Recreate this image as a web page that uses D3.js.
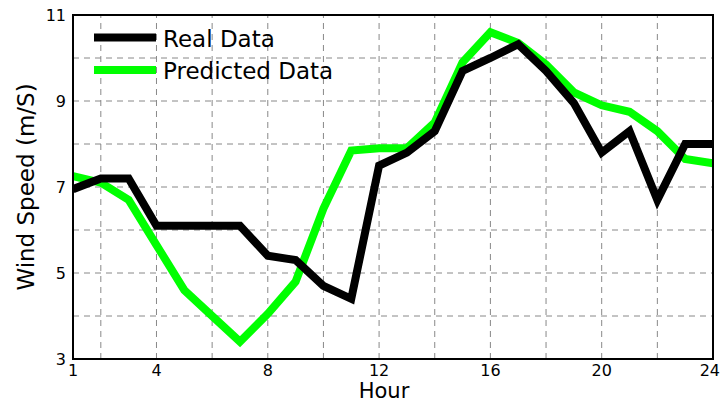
<!DOCTYPE html>
<html lang="en">
<head>
<meta charset="UTF-8"/>
<title>Wind Speed</title>
<script src="https://cdn.jsdelivr.net/npm/d3@7"></script>
<style>
  body { margin: 0; background: #fff; }
  text { font-family: "DejaVu Sans", sans-serif; fill: #000; }
</style>
</head>
<body>
<script>
var w = 721, h = 405;
var margin = {top: 15, right: 8, bottom: 46, left: 73};

var hours = d3.range(1, 25);
var realData = [6.95, 7.2, 7.2, 6.1, 6.1, 6.1, 6.1, 5.4, 5.3, 4.7, 4.4, 7.5,
                7.8, 8.3, 9.7, 10.0, 10.32, 9.7, 8.95, 7.8, 8.3, 6.7, 8.0, 8.0];
var predictedData = [7.25, 7.1, 6.7, 5.65, 4.6, 4.0, 3.4, 4.05, 4.8, 6.5, 7.85, 7.9,
                     7.9, 8.5, 9.9, 10.6, 10.35, 9.85, 9.2, 8.9, 8.75, 8.3, 7.65, 7.55];
var xTicks = [1, 4, 8, 12, 16, 20, 24];
var xGrid = [2, 4, 6, 8, 10, 12, 14, 16, 18, 20, 22];
var yTicks = [3, 5, 7, 9, 11];
var yGrid = [4, 5, 6, 7, 8, 9, 10];
var seriesNames = ["Real Data", "Predicted Data"];
var seriesColors = ["#000000", "#00ff00"];

var x = d3.scaleLinear().domain([1, 24]).range([margin.left, w - margin.right]);
var y = d3.scaleLinear().domain([3, 11]).range([h - margin.bottom, margin.top]);

var svg = d3.select("body").append("svg").attr("width", w).attr("height", h);

// grid
svg.append("g").selectAll("line").data(xGrid).enter().append("line")
  .attr("x1", function(d) { return x(d); }).attr("x2", function(d) { return x(d); })
  .attr("y1", y(3)).attr("y2", y(11))
  .attr("stroke", "#888").attr("stroke-width", 1).attr("stroke-dasharray", "6,5");
svg.append("g").selectAll("line").data(yGrid).enter().append("line")
  .attr("y1", function(d) { return y(d); }).attr("y2", function(d) { return y(d); })
  .attr("x1", x(1)).attr("x2", x(24))
  .attr("stroke", "#888").attr("stroke-width", 1).attr("stroke-dasharray", "6,5");

// lines (real data drawn last, on top)
var line = d3.line().x(function(d, i) { return x(hours[i]); }).y(function(d) { return y(d); });
svg.append("clipPath").attr("id", "clip").append("rect")
  .attr("x", x(1)).attr("y", y(11)).attr("width", x(24) - x(1)).attr("height", y(3) - y(11));

[predictedData, realData].forEach(function(data, k) {
  svg.append("path").datum(data)
    .attr("d", line)
    .attr("fill", "none")
    .attr("stroke", seriesColors[1 - k])
    .attr("stroke-width", 8)
    .attr("stroke-linejoin", "miter")
    .attr("clip-path", "url(#clip)");
});

// frame
svg.append("rect")
  .attr("x", x(1)).attr("y", y(11))
  .attr("width", x(24) - x(1)).attr("height", y(3) - y(11))
  .attr("fill", "none").attr("stroke", "#000").attr("stroke-width", 2);

// tick labels
svg.append("g").selectAll("text").data(xTicks).enter().append("text")
  .text(function(d) { return d; })
  .attr("x", function(d) { return d === 24 ? 720 : x(d); })
  .attr("y", 376)
  .attr("text-anchor", function(d) { return d === 24 ? "end" : "middle"; })
  .attr("font-size", "16px");
svg.append("g").selectAll("text").data(yTicks).enter().append("text")
  .text(function(d) { return d; })
  .attr("x", 66)
  .attr("y", function(d) { return y(d) + 6; })
  .attr("text-anchor", "end")
  .attr("font-size", "16px");

// axis titles
svg.append("text").text("Hour")
  .attr("x", 384).attr("y", 398)
  .attr("text-anchor", "middle").attr("font-size", "21px");
svg.append("text").text("Wind Speed (m/S)")
  .attr("transform", "translate(34,187) rotate(-90)")
  .attr("text-anchor", "middle").attr("font-size", "23px");

// legend
var legend = svg.append("g");
seriesNames.forEach(function(name, k) {
  var ly = 37.5 + k * 32.5;
  legend.append("line")
    .attr("x1", 94).attr("x2", 156).attr("y1", ly).attr("y2", ly)
    .attr("stroke", seriesColors[k]).attr("stroke-width", 8);
  legend.append("text").text(name)
    .attr("x", 163).attr("y", ly + 9)
    .attr("font-size", "23px");
});
</script>
</body>
</html>
